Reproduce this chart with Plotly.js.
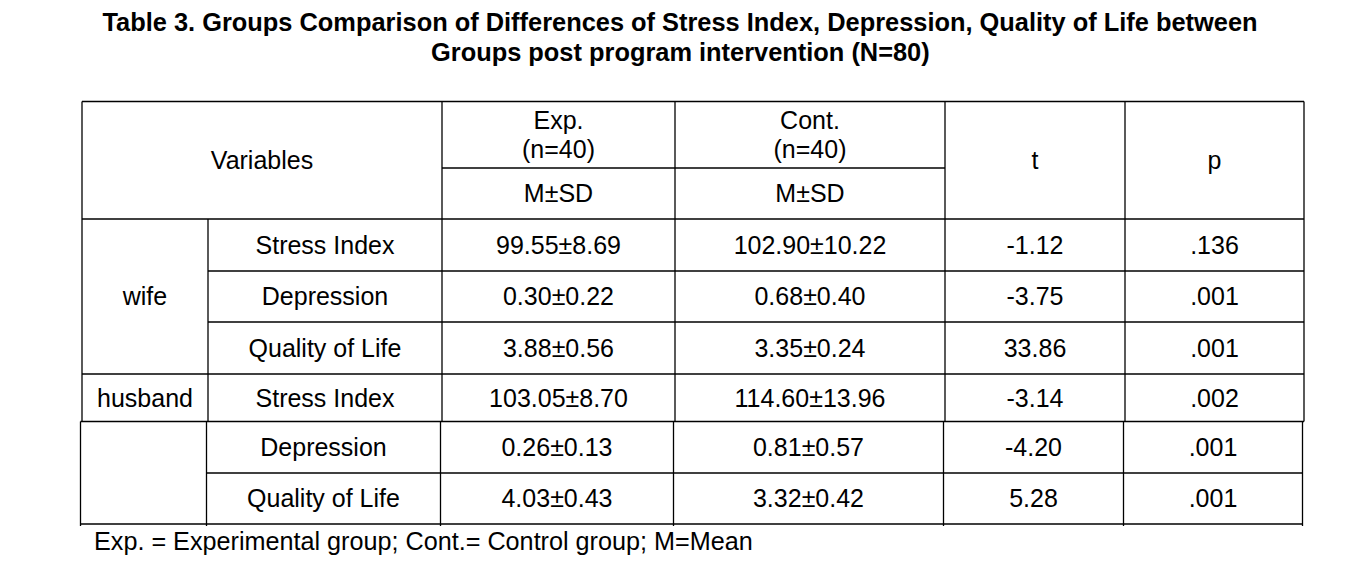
<!DOCTYPE html>
<html>
<head>
<meta charset="utf-8">
<script src="https://cdn.plot.ly/plotly-3.0.1.min.js"></script>
<style>html,body{margin:0;padding:0;background:#fff;}#chart{width:1360px;height:577px;}</style>
</head>
<body>
<div id="chart"></div>
<script>
// ---- data ----
const groups = ['wife', 'husband'];
const groupRows = [[0, 1, 2], [3]];
const variables = ['Stress Index', 'Depression', 'Quality of Life', 'Stress Index', 'Depression', 'Quality of Life'];
const expMean = [99.55, 0.30, 3.88, 103.05, 0.26, 4.03];
const expSD = [8.69, 0.22, 0.56, 8.70, 0.13, 0.43];
const contMean = [102.90, 0.68, 3.35, 114.60, 0.81, 3.32];
const contSD = [10.22, 0.40, 0.24, 13.96, 0.57, 0.42];
const tVals = [-1.12, -3.75, 33.86, -3.14, -4.20, 5.28];
const pVals = [0.136, 0.001, 0.001, 0.002, 0.001, 0.001];
const headerVar = 'Variables';
const headerExp = ['Exp.', '(n=40)'];
const headerCont = ['Cont.', '(n=40)'];
const headerStat = 'M\u00B1SD';
const headerT = 't';
const headerP = 'p';
const titleLine1 = 'Table 3. Groups Comparison of Differences of Stress Index, Depression, Quality of Life between';
const titleLine2 = 'Groups post program intervention (N=80)';
const footnote = 'Exp. = Experimental group; Cont.= Control group; M=Mean';

// ---- layout grid (pixel units of the axes) ----
const colEdgesTop = [82, 208, 442, 675, 945, 1125, 1304];
const colEdgesLow = [80.5, 206.5, 440.5, 673.5, 943.5, 1123.5, 1302.5];
const headTop = 101.5, headMid = 168, headBot = 219;
const rowEdges = [219, 271, 322, 374, 421.5, 473, 524];
const lowStart = 4; // rows from index 4 use the lower grid (shifted)

const FONT = 'Liberation Sans, Arial, sans-serif';
const FS = 25;
const DY = 2.5; // baseline nudge
const TFS = 25.4;

function mid(a, b) { return (a + b) / 2; }
function edgesFor(r) { return r >= lowStart ? colEdgesLow : colEdgesTop; }
const fmt2 = v => v.toFixed(2);
const fmtP = v => v.toFixed(3).replace(/^0/, '');
const pm = '\u00B1';

const tx = [], ty = [], tt = [];
function put(x, y, s) { tx.push(x); ty.push(y + DY); tt.push(s); }

// header
put(mid(colEdgesTop[0], colEdgesTop[2]), mid(headTop, headBot), headerVar);
put(mid(colEdgesTop[2], colEdgesTop[3]), 120, headerExp[0]);
put(mid(colEdgesTop[2], colEdgesTop[3]), 149, headerExp[1]);
put(mid(colEdgesTop[3], colEdgesTop[4]), 120, headerCont[0]);
put(mid(colEdgesTop[3], colEdgesTop[4]), 149, headerCont[1]);
put(mid(colEdgesTop[2], colEdgesTop[3]), mid(headMid, headBot), headerStat);
put(mid(colEdgesTop[3], colEdgesTop[4]), mid(headMid, headBot), headerStat);
put(mid(colEdgesTop[4], colEdgesTop[5]), mid(headTop, headBot), headerT);
put(mid(colEdgesTop[5], colEdgesTop[6]), mid(headTop, headBot), headerP);

// group labels
groups.forEach((g, i) => {
  const rows = groupRows[i];
  const e = edgesFor(rows[0]);
  put(mid(e[0], e[1]), mid(rowEdges[rows[0]], rowEdges[rows[rows.length - 1] + 1]), g);
});

// body
variables.forEach((v, r) => {
  const e = edgesFor(r);
  const y = mid(rowEdges[r], rowEdges[r + 1]);
  put(mid(e[1], e[2]), y, v);
  put(mid(e[2], e[3]), y, fmt2(expMean[r]) + pm + fmt2(expSD[r]));
  put(mid(e[3], e[4]), y, fmt2(contMean[r]) + pm + fmt2(contSD[r]));
  put(mid(e[4], e[5]), y, fmt2(tVals[r]));
  put(mid(e[5], e[6]), y, fmtP(pVals[r]));
});

// ---- lines ----
const shapes = [];
const LW = 1.3;
function hl(y, x0, x1) { shapes.push({type: 'line', xref: 'x', yref: 'y', x0: x0, x1: x1, y0: y, y1: y, line: {color: '#000', width: LW}}); }
function vl(x, y0, y1) { shapes.push({type: 'line', xref: 'x', yref: 'y', x0: x, x1: x, y0: y0, y1: y1, line: {color: '#000', width: LW}}); }

const T = colEdgesTop, L = colEdgesLow;
hl(headTop, T[0], T[6]);
hl(headMid, T[2], T[4]);
hl(headBot, T[0], T[6]);
hl(rowEdges[1], T[1], T[6]);
hl(rowEdges[2], T[1], T[6]);
hl(rowEdges[3], T[0], T[6]);
hl(rowEdges[4], L[0], T[6]);
hl(rowEdges[5], L[1], L[6]);
hl(rowEdges[6], L[0], L[6]);
// upper verticals
[0, 2, 3, 4, 5, 6].forEach(i => vl(T[i], headTop, rowEdges[4]));
vl(T[1], headBot, rowEdges[4]);
// lower verticals
L.forEach(x => vl(x, rowEdges[4], rowEdges[6] + 2));

const trace = {
  type: 'scatter', mode: 'text', x: tx, y: ty, text: tt,
  textposition: 'middle center',
  textfont: {family: FONT, size: FS, color: '#000'},
  hoverinfo: 'skip', showlegend: false, cliponaxis: false
};

const layout = {
  width: 1360, height: 577,
  margin: {l: 0, r: 0, t: 0, b: 0},
  paper_bgcolor: '#fff', plot_bgcolor: '#fff',
  xaxis: {range: [0, 1360], visible: false, fixedrange: true},
  yaxis: {range: [577, 0], visible: false, fixedrange: true},
  showlegend: false,
  title: {
    text: '<b>' + titleLine1 + '</b>',
    x: 0.5, xanchor: 'center', xref: 'container',
    y: 1 - 22 / 577, yanchor: 'middle', yref: 'container',
    font: {family: FONT, size: TFS, color: '#000'}
  },
  shapes: shapes,
  annotations: [{
    text: '<b>' + titleLine2 + '</b>', xref: 'paper', yref: 'y', x: 0.5, y: 52,
    xanchor: 'center', yanchor: 'middle', showarrow: false,
    font: {family: FONT, size: TFS, color: '#000'}
  }, {
    text: footnote, xref: 'x', yref: 'y', x: 92, y: 541,
    xanchor: 'left', yanchor: 'middle', showarrow: false,
    font: {family: FONT, size: 25.2, color: '#000'}
  }]
};

Plotly.newPlot('chart', [trace], layout, {staticPlot: true, displayModeBar: false});
</script>
</body>
</html>
